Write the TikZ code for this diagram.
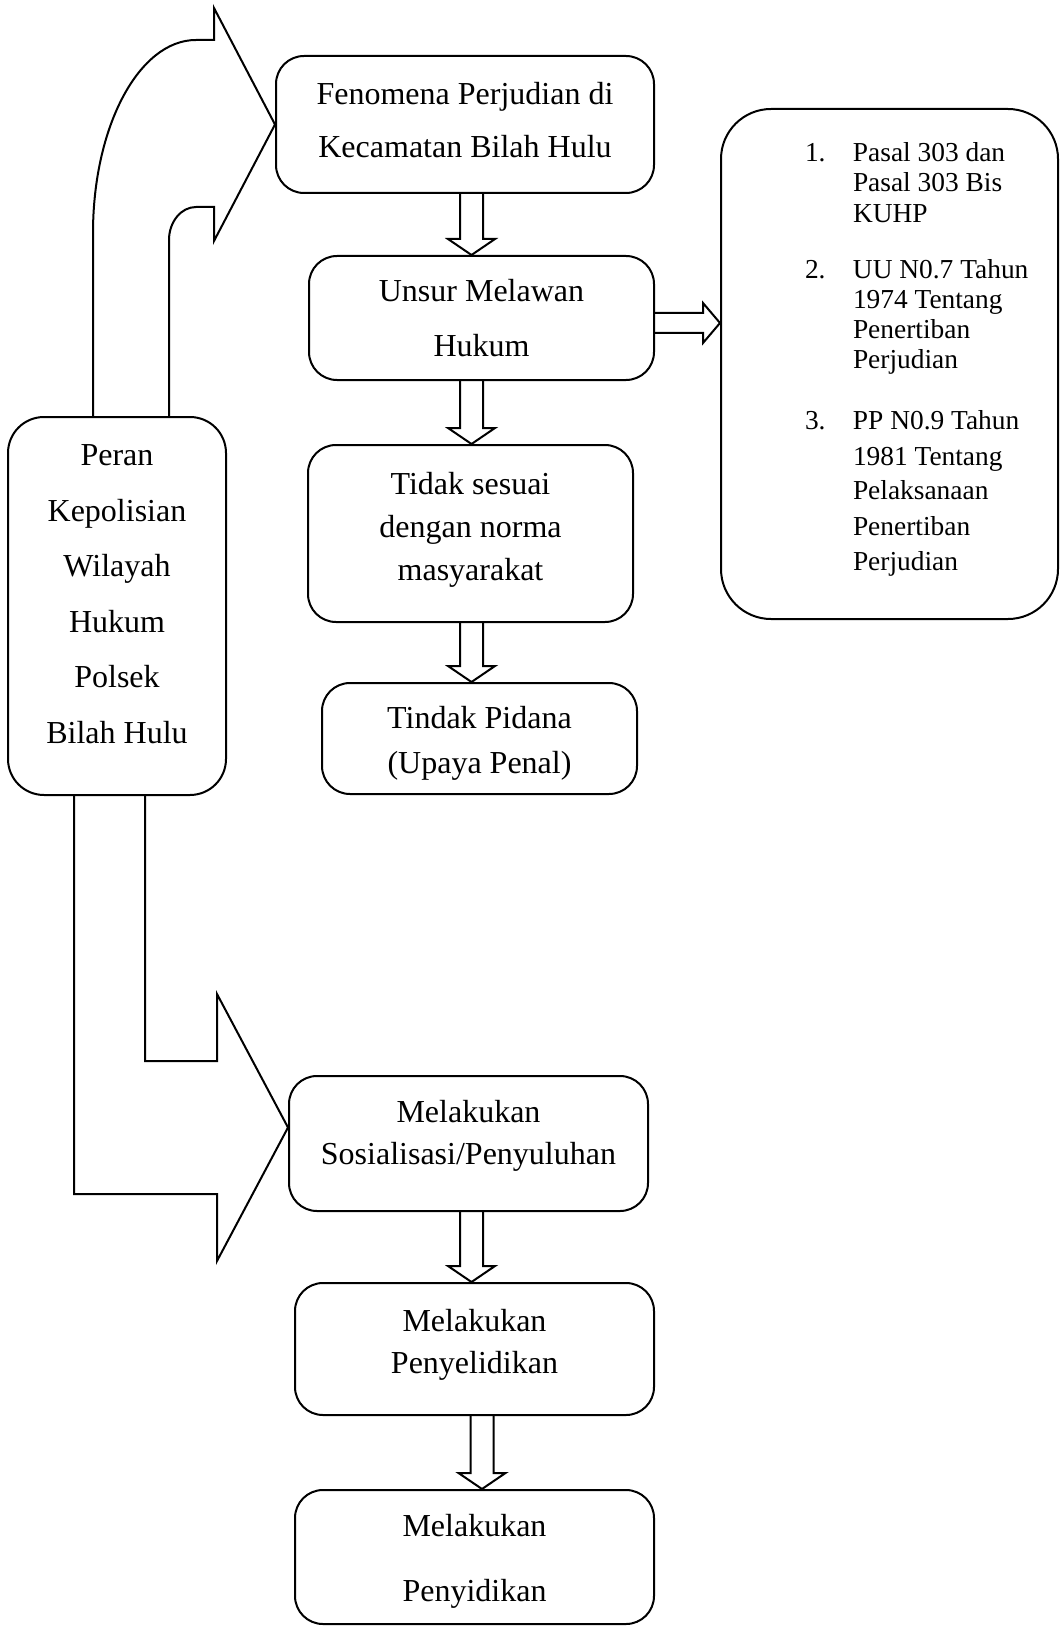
\documentclass[tikz,border=0pt]{standalone}
\usepackage{fontspec}
\setmainfont{Liberation Serif}
\usepackage{tikz}
\usetikzlibrary{calc}

\tikzset{
    stage/.style={draw, rounded corners=14pt, inner ysep=0pt, font=\fontsize{16}{#1}\selectfont},
    stage/.default=27,
    hollow/.style={draw, sharp corners, line join=miter},
}

\newcommand{\boxlines}[1]{\begin{tabular}{@{}c@{}}#1\end{tabular}}

\newcommand{\hollowdown}[3]{%
    \draw[hollow] let \p1 = (#1, 0 |- #2.south), \p2 = (#1, 0 |- #3.north) in
        (\x1-5.75pt, \y1) -- (\x1-5.75pt, \y2+8pt) -- (\x1-11.75pt, \y2+8pt) -- (\p2)
        -- (\x1+11.75pt, \y2+8pt) -- (\x1+5.75pt, \y2+8pt) -- (\x1+5.75pt, \y1);}

\begin{document}
\begin{tikzpicture}[x=0.5pt, y=-0.5pt, line width=1pt]
                    \useasboundingbox (0, 0) rectangle (1060, 1626);
                    \begin{scope}
                        \node[stage=26.5, minimum width=189pt, minimum height=68.5pt] (fen) at (465, 124.5) {\boxlines{Fenomena Perjudian di\\Kecamatan Bilah Hulu\\[4pt]}};
                        \node[stage=27.5, minimum width=172.5pt, minimum height=62pt] (uns) at (481.5, 318) {\boxlines{Unsur Melawan\\Hukum}};
                        \node[stage=21.5, minimum width=162.5pt, minimum height=88.5pt] (tdk) at (470.5, 533.5) {\boxlines{Tidak sesuai\\dengan norma\\masyarakat\\[5pt]}};
                        \node[stage=22.5, minimum width=157.5pt, minimum height=55.5pt] (tp) at (479.5, 738.5) {\boxlines{\rule{0pt}{19.2pt}Tindak Pidana\\(Upaya Penal)}};
                        \hollowdown{471.5}{fen}{uns}
                        \hollowdown{471.5}{uns}{tdk}
                        \hollowdown{471.5}{tdk}{tp}
                    \end{scope}
                    \begin{scope}
                        \node[draw, rounded corners=25pt, minimum width=168.5pt, minimum height=255pt, inner xsep=0pt, font=\fontsize{13.7}{15}\selectfont] (law) at (889.5, 364) {%
                            \begin{tabular}{@{\hspace{42pt}}p{24pt}@{}p{102.5pt}@{}}
                                1. & Pasal 303 dan\\
                                   & Pasal 303 Bis\\
                                   & KUHP\\[13.5pt]
                                2. & UU N0.7 Tahun\\
                                   & 1974 Tentang\\
                                   & Penertiban\\
                                   & Perjudian\\[15.5pt]
                                3. & PP N0.9 Tahun\\[2.5pt]
                                   & 1981 Tentang\\[2.5pt]
                                   & Pelaksanaan\\[2.5pt]
                                   & Penertiban\\[2.5pt]
                                   & Perjudian\\[4pt]
                            \end{tabular}};
                        \draw[hollow] let \p1 = (uns.east |- 0, 323), \p2 = (law.west |- 0, 323) in
                            (\x1, \y1+5pt) -- (\x2-8.5pt, \y1+5pt) -- (\x2-8.5pt, \y1+10pt) -- (\p2)
                            -- (\x2-8.5pt, \y1-10pt) -- (\x2-8.5pt, \y1-5pt) -- (\x1, \y1-5pt);
                    \end{scope}
                    \begin{scope}
                        \node[stage=27.75, rounded corners=18pt, minimum width=109pt, minimum height=189pt] (peran) at (117, 606) {\boxlines{Peran\\Kepolisian\\Wilayah\\Hukum\\Polsek\\Bilah Hulu\\[12.5pt]}};
                        \draw[hollow] (93, 0 |- peran.north) -- (93, 233) .. controls (93, 126.5) and (139, 40) .. (196, 40)
                            -- (214, 40) -- (214, 8) -- (fen.west) -- (214, 241) -- (214, 207) -- (196, 207)
                            .. controls (181, 207) and (169, 222) .. (169, 240) -- (169, 0 |- peran.north);
                    \end{scope}
                    \begin{scope}
                        \node[stage=21, minimum width=179.5pt, minimum height=67.5pt] (sos) at (468.5, 1143.5) {\boxlines{Melakukan\\Sosialisasi/Penyuluhan\\[8pt]}};
                        \node[stage=21, minimum width=179.5pt, minimum height=66pt] (sel) at (474.5, 1349) {\boxlines{Melakukan\\Penyelidikan\\[5pt]}};
                        \node[stage=32.5, minimum width=179.5pt, minimum height=67pt] (sid) at (474.5, 1557) {\boxlines{Melakukan\\Penyidikan\\[1.5pt]}};
                        \draw[hollow] (145, 0 |- peran.south) -- (145, 1061) -- (217, 1061) -- (217, 994) -- ([yshift=8pt]sos.west)
                            -- (217, 1261) -- (217, 1194) -- (74, 1194) -- (74, 0 |- peran.south);
                        \hollowdown{471.5}{sos}{sel}
                        \hollowdown{482}{sel}{sid}
                    \end{scope}
                \end{tikzpicture}
\end{document}
